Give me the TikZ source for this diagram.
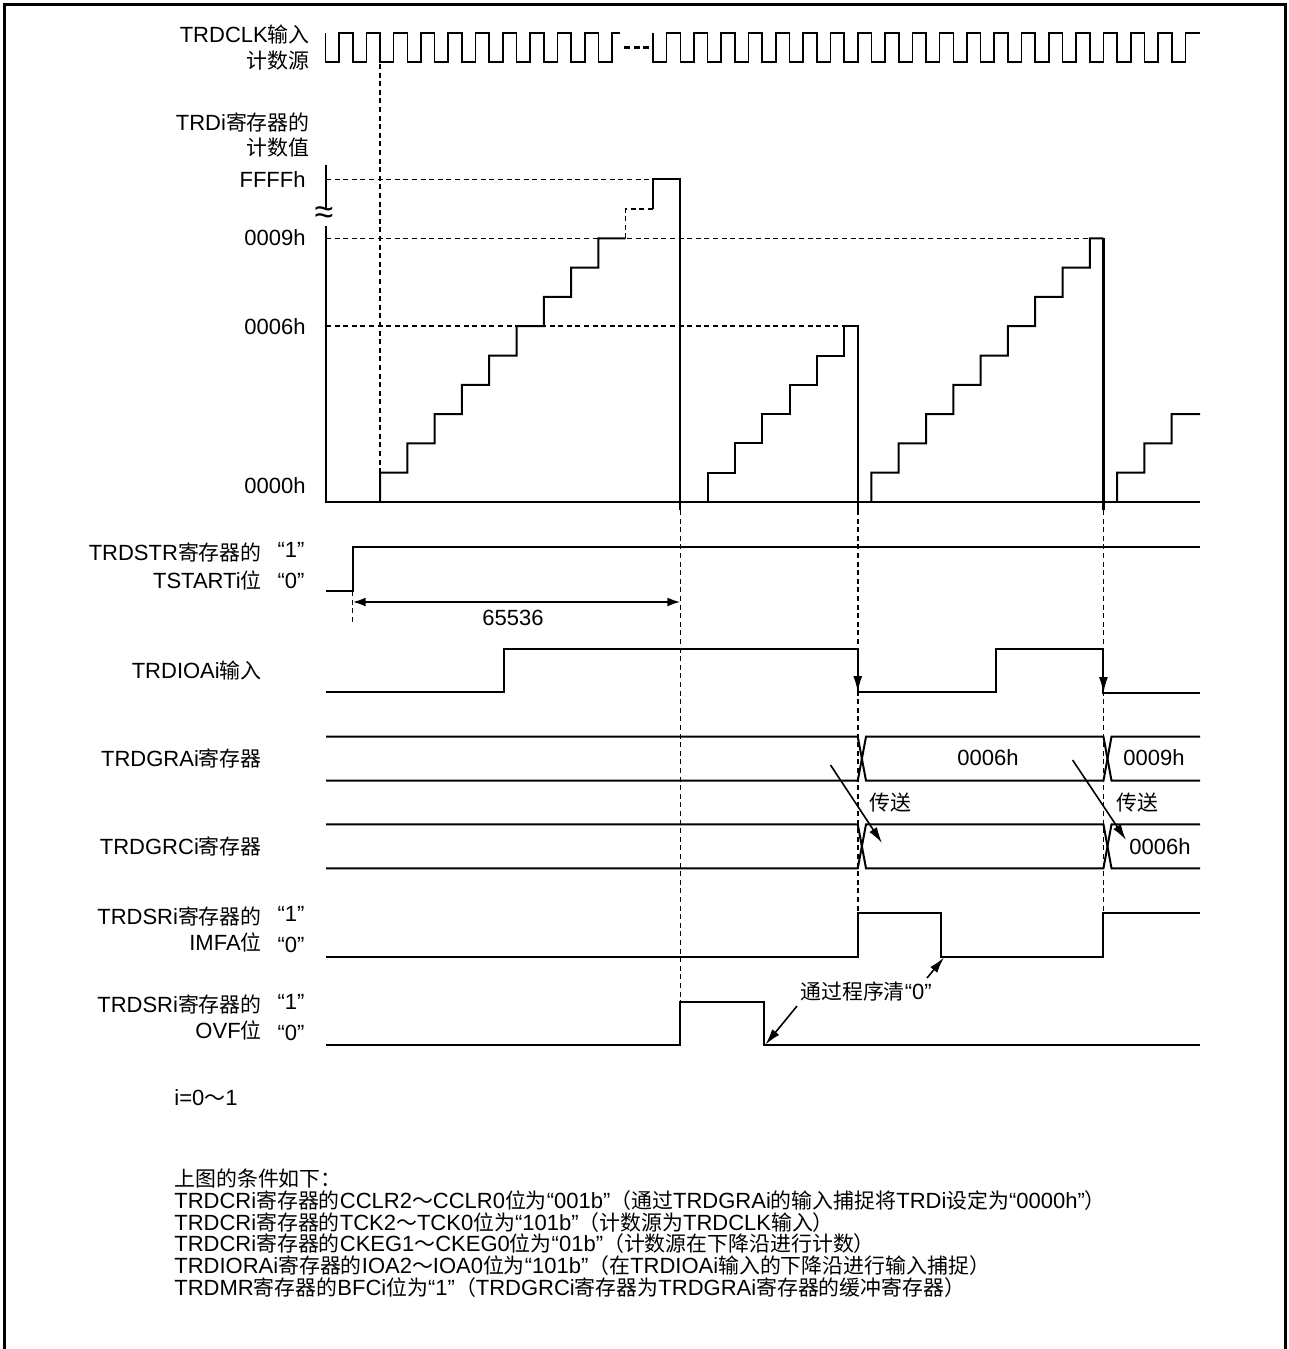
\documentclass[tikz,border=0pt]{standalone}
\usepackage{fontspec}
\setmainfont{Liberation Sans}
\newfontfamily\cjkf[Scale=0.95]{Noto Sans CJK SC}
\newcommand\C[1]{{\cjkf #1}}
\usetikzlibrary{arrows.meta}
\begin{document}
\begin{tikzpicture}[x=0.5pt,y=-0.5pt,
  every node/.style={font=\fontsize{11}{13}\selectfont, inner sep=0pt},
  sig/.style={line width=1pt},
  clk/.style={line width=0.8pt},
  dsh/.style={line width=0.75pt, dash pattern=on 2.5pt off 1.8pt},
  tip/.style={-{Latex[length=8pt,width=4.5pt]}, line width=0.8pt},
  lab/.style={anchor=east},
  txt/.style={anchor=west}]
\useasboundingbox (0,0) rectangle (1289,1349);
% frame
\draw[line width=1.5pt] (4,1349) -- (4,4) -- (1285,4) -- (1285,1349);

% ---------------- labels ----------------
\node[lab] (lclk1) at (310,35) {TRDCLK\C{输入}};
\node[lab] (lclk2) at (310,61) {\C{计数源}};
\node[lab] (lcnt1) at (310,122) {TRDi\C{寄存器的}};
\node[lab] (lcnt2) at (310,148) {\C{计数值}};
\node[lab] (vffff) at (306,180) {FFFFh};
\node[lab] (v0009) at (306,238) {0009h};
\node[lab] (v0006) at (306,327) {0006h};
\node[lab] (v0000) at (306,486) {0000h};

\node[lab] (lst1) at (262,552) {TRDSTR\C{寄存器的}};
\node[lab] (lst2) at (262,580) {TSTARTi\C{位}};
\node (st1) at (291,550) {“1”};
\node (st0) at (291,581) {“0”};
\node[lab] (lio) at (262,671) {TRDIOAi\C{输入}};
\node[lab] (lgra) at (262,758) {TRDGRAi\C{寄存器}};
\node[lab] (lgrc) at (262,846) {TRDGRCi\C{寄存器}};
\node[lab] (lim1) at (262,916) {TRDSRi\C{寄存器的}};
\node[lab] (lim2) at (262,942) {IMFA\C{位}};
\node (im1) at (291,914) {“1”};
\node (im0) at (291,945) {“0”};
\node[lab] (lov1) at (262,1004) {TRDSRi\C{寄存器的}};
\node[lab] (lov2) at (262,1030) {OVF\C{位}};
\node (ov1) at (291,1002) {“1”};
\node (ov0) at (291,1033) {“0”};

% ---------------- clock ----------------
\draw[clk] (325.4,33) \foreach \k in {-2,...,8}{ -- ({380+27.3*\k},33) -- ({380+27.3*\k},62) -- ({393.65+27.3*\k},62) -- ({393.65+27.3*\k},33) } -- (620,33);
\draw[line width=1.6pt] (624,47.5) -- (630,47.5) (633.5,47.5) -- (639.5,47.5) (643,47.5) -- (649,47.5);
\draw[clk] (653,33) -- (653,62) \foreach \k in {10,...,28}{ -- ({393.65+27.3*\k},62) -- ({393.65+27.3*\k},33) -- ({380+27.3*(\k+1)},33) -- ({380+27.3*(\k+1)},62) } -- (1185.35,62) -- (1185.35,33) -- (1200,33);

% ---------------- counter ----------------
\draw[line width=0.7pt] (326,165) -- (326,208);
\node (brk) at (324,215) {\fontsize{17}{17}\selectfont ≈};
\draw[line width=1.2pt] (326,226) -- (326,502) -- (1200,502);
% dashed guides
\draw[dsh] (380,64) -- (380,472.7);
\draw[dsh] (326,179.3) -- (653,179.3);
\draw[dsh] (326,238.3) -- (1089.8,238.3);
\draw[dsh] (326,326.2) -- (844.1,326.2);
% staircase 1
\draw[sig] (380,502) -- (380,472.7) \foreach \n in {1,...,8}{ -- ({380+27.3*\n},{502-29.3*\n}) -- ({380+27.3*\n},{502-29.3*(\n+1)}) } -- (625.7,238.3);
\draw[dsh] (625.7,238.3) -- (625.7,209) -- (653,209);
\draw[sig] (653,209) -- (653,179.3) -- (680.3,179.3) -- (680.3,510);
% staircase 2
\draw[sig] (707.6,502) -- (707.6,472.7) \foreach \n in {1,...,5}{ -- ({707.6+27.3*\n},{502-29.3*\n}) -- ({707.6+27.3*\n},{502-29.3*(\n+1)}) } -- (857.75,326.2) -- (857.75,510);
% staircase 3
\draw[sig] (871.4,502) -- (871.4,472.7) \foreach \n in {1,...,8}{ -- ({871.4+27.3*\n},{502-29.3*\n}) -- ({871.4+27.3*\n},{502-29.3*(\n+1)}) } -- (1103.45,238.3);
\draw[line width=1.6pt] (1103.45,238.3) -- (1103.45,510);
% staircase 4
\draw[sig] (1117.1,502) -- (1117.1,472.7) \foreach \n in {1,2}{ -- ({1117.1+27.3*\n},{502-29.3*\n}) -- ({1117.1+27.3*\n},{502-29.3*(\n+1)}) } -- (1200,414.1);

% long dashed verticals
\draw[dsh] (680.3,510) -- (680.3,1001.7);
\draw[dsh] (857.75,510) -- (857.75,912.7);
\draw[dsh] (1103.45,510) -- (1103.45,912.7);
\draw[dsh] (352.7,591) -- (352.7,622);

% ---------------- TSTART ----------------
\draw[sig] (326,590.7) -- (352.7,590.7) -- (352.7,547) -- (1200,547);
\coordinate (dimL) at (352.7,602);
\coordinate (dimR) at (680.3,602);
\draw[{Latex[length=6.5pt,width=4.5pt]}-{Latex[length=6.5pt,width=4.5pt]}, line width=1pt] (dimL) -- (dimR);
\node (n65536) at (513,618) {65536};

% ---------------- TRDIOA ----------------
\draw[sig] (326,692) -- (503.6,692) -- (503.6,649.3) -- (857.75,649.3) -- (857.75,692) -- (995.6,692) -- (995.6,649.3) -- (1103.45,649.3) -- (1103.45,693) -- (1200,693);
\coordinate (ioa1) at (857.75,660);
\coordinate (ioa1e) at (857.75,692);
\coordinate (ioa2) at (1103.45,660);
\coordinate (ioa2e) at (1103.45,693);
\draw[tip] (ioa1) -- (ioa1e);
\draw[tip] (ioa2) -- (ioa2e);

% ---------------- TRDGRA / TRDGRC buses ----------------
\foreach \t/\b in {736.7/780.7, 824.3/868.3}{
  \draw[sig] (326,\t) -- (857.75,\t) -- (866,\b) -- (1103.45,\b) -- (1111.5,\t) -- (1200,\t);
  \draw[sig] (326,\b) -- (857.75,\b) -- (866,\t) -- (1103.45,\t) -- (1111.5,\b) -- (1200,\b);
}
\node (gra1) at (988,758) {0006h};
\node (gra2) at (1154,758) {0009h};
\node (grc2) at (1160,847) {0006h};
\node (tr1) at (890,803) {\C{传送}};
\node (tr2) at (1137,803) {\C{传送}};
\coordinate (t1s) at (830.5,765);
\coordinate (t1e) at (882,843);
\coordinate (t2s) at (1072.6,760);
\coordinate (t2e) at (1126,840);
\draw[tip] (t1s) -- (t1e);
\draw[tip] (t2s) -- (t2e);

% ---------------- IMFA ----------------
\draw[sig] (326,956.7) -- (857.75,956.7) -- (857.75,912.7) -- (940.5,912.7) -- (940.5,956.7) -- (1103.45,956.7) -- (1103.45,912.7) -- (1200,912.7);
% ---------------- OVF ----------------
\draw[sig] (326,1045) -- (680.3,1045) -- (680.3,1001.7) -- (763.5,1001.7) -- (763.5,1045) -- (1200,1045);

\node (clr) at (866,992) {\C{通过程序清}“0”};
\coordinate (c1s) at (927,978);
\coordinate (c1e) at (944,957.5);
\coordinate (c2s) at (797,1006);
\coordinate (c2e) at (765.5,1044.5);
\draw[tip] (c1s) -- (c1e);
\draw[tip] (c2s) -- (c2e);

% ---------------- notes ----------------
\node[txt] (ni) at (174,1098) {i=0\C{～}1};
\node[txt] (nh) at (174,1179) {\C{上图的条件如下：}};
\node[txt] (n1) at (174,1201) {TRDCRi\C{寄存器的}CCLR2\C{～}CCLR0\C{位为}“001b”\C{（通过}TRDGRAi\C{的输入捕捉将}TRDi\C{设定为}“0000h”\C{）}};
\node[txt] (n2) at (174,1223) {TRDCRi\C{寄存器的}TCK2\C{～}TCK0\C{位为}“101b”\C{（计数源为}TRDCLK\C{输入）}};
\node[txt] (n3) at (174,1244) {TRDCRi\C{寄存器的}CKEG1\C{～}CKEG0\C{位为}“01b”\C{（计数源在下降沿进行计数）}};
\node[txt] (n4) at (174,1266) {TRDIORAi\C{寄存器的}IOA2\C{～}IOA0\C{位为}“101b”\C{（在}TRDIOAi\C{输入的下降沿进行输入捕捉）}};
\node[txt] (n5) at (174,1288) {TRDMR\C{寄存器的}BFCi\C{位为}“1”\C{（}TRDGRCi\C{寄存器为}TRDGRAi\C{寄存器的缓冲寄存器）}};
\end{tikzpicture}
\end{document}
